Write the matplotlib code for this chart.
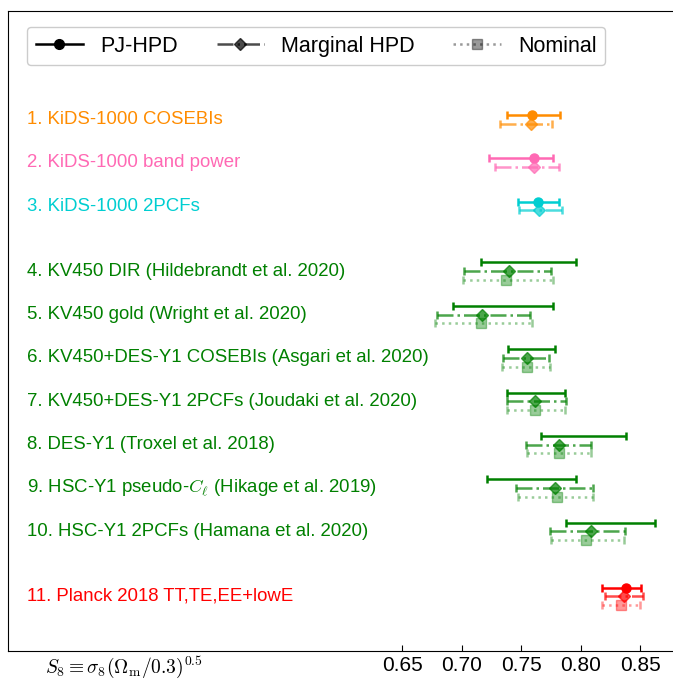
import matplotlib
matplotlib.use('Agg')
import matplotlib.pyplot as plt
from matplotlib.lines import Line2D

plt.rcParams['font.family'] = ['Liberation Sans', 'DejaVu Sans']
plt.rcParams['mathtext.fontset'] = 'cm'

# Datos: S8 para cada analisis (centro, limite inferior, limite superior)
labels = [
    '1. KiDS-1000 COSEBIs',
    '2. KiDS-1000 band power',
    '3. KiDS-1000 2PCFs',
    '4. KV450 DIR (Hildebrandt et al. 2020)',
    '5. KV450 gold (Wright et al. 2020)',
    '6. KV450+DES-Y1 COSEBIs (Asgari et al. 2020)',
    '7. KV450+DES-Y1 2PCFs (Joudaki et al. 2020)',
    '8. DES-Y1 (Troxel et al. 2018)',
    r'9. HSC-Y1 pseudo-$C_\ell$ (Hikage et al. 2019)',
    '10. HSC-Y1 2PCFs (Hamana et al. 2020)',
    '11. Planck 2018 TT,TE,EE+lowE',
]
colors = ['darkorange', 'hotpink', 'darkturquoise'] + ['green'] * 7 + ['red']

# PJ-HPD (None = sin punto central)
pj_mid = [0.759, 0.761, 0.764, None, None, None, None, None, None, None, 0.838]
pj_lo = [0.738, 0.723, 0.747, 0.716, 0.693, 0.739, 0.738, 0.767, 0.721, 0.788, 0.818]
pj_hi = [0.783, 0.777, 0.782, 0.796, 0.777, 0.778, 0.787, 0.838, 0.796, 0.862, 0.851]

# Marginal HPD
marg_mid = [0.758, 0.761, 0.765, 0.740, 0.717, 0.755, 0.762, 0.782, 0.778, 0.809, 0.836]
marg_lo = [0.732, 0.728, 0.748, 0.702, 0.679, 0.735, 0.738, 0.754, 0.746, 0.774, 0.820]
marg_hi = [0.776, 0.782, 0.784, 0.775, 0.757, 0.773, 0.788, 0.809, 0.810, 0.837, 0.852]

# Nominal (None = no disponible)
nom_mid = [None, None, None, 0.737, 0.716, 0.755, 0.762, 0.782, 0.780, 0.804, 0.834]
nom_lo = [None, None, None, 0.701, 0.678, 0.734, 0.738, 0.755, 0.747, 0.775, 0.818]
nom_hi = [None, None, None, 0.777, 0.759, 0.774, 0.787, 0.809, 0.810, 0.836, 0.850]

xticks = [0.65, 0.70, 0.75, 0.80, 0.85]


def barra(ax, mid, lo, hi, y, color, ls, marker, alpha, ms, lw):
    x = mid if mid is not None else (lo + hi) / 2
    eb = ax.errorbar([x], [y], xerr=[[x - lo], [hi - x]], fmt='none',
                     ecolor=color, elinewidth=lw, capsize=3, capthick=lw,
                     alpha=alpha)
    eb[2][0].set_linestyle(ls)
    if mid is not None:
        ax.plot([mid], [y], marker=marker, color=color, ms=ms, alpha=alpha,
                linestyle='none')


fig = plt.figure(figsize=(6.73, 6.82), dpi=100)
ax = fig.add_axes([8 / 673, 31 / 682, 668 / 673, 640 / 682])

# posiciones verticales de cada grupo
ypos = []
y = 0.0
for i in range(len(labels)):
    if i == 3:
        y += 0.4
    if i == 10:
        y += 0.5
    ypos.append(y)
    y += 1.0

off = 0.2
for i in range(len(labels)):
    y0 = ypos[i]
    c = colors[i]
    barra(ax, pj_mid[i], pj_lo[i], pj_hi[i], y0, c, '-', 'o', 1.0, 6.5, 1.8)
    barra(ax, marg_mid[i], marg_lo[i], marg_hi[i], y0 + off, c, '-.', 'D', 0.7, 6, 1.8)
    n = 2
    if nom_lo[i] is not None:
        barra(ax, nom_mid[i], nom_lo[i], nom_hi[i], y0 + 2 * off, c, ':', 's', 0.4, 6.5, 1.8)
        n = 3
    ylab = y0 + off * (n - 1) / 2
    ax.text(0.335, ylab, labels[i], color=c, fontsize=13.4, va='center', ha='left')

ax.set_xlim(0.319, 0.88)
ax.set_ylim(12.36, -2.4)
ax.set_xticks(xticks)
ax.set_xticklabels(['%.2f' % t for t in xticks], fontsize=15)
ax.tick_params(axis='x', direction='in', length=4, width=0.8, top=False)
ax.set_yticks([])
ax.spines['right'].set_visible(False)

ax.text(0.055, -0.026, r'$S_8 \equiv \sigma_8(\Omega_{\rm m}/0.3)^{0.5}$',
        transform=ax.transAxes, fontsize=14, ha='left', va='center')

handles = [
    Line2D([], [], color='black', ls='-', marker='o', lw=1.8, ms=7),
    Line2D([], [], color='black', ls='-.', marker='D', lw=1.8, ms=6, alpha=0.7),
    Line2D([], [], color='black', ls=':', marker='s', lw=1.8, ms=7, alpha=0.4),
]
leg = ax.legend(handles, ['PJ-HPD', 'Marginal HPD', 'Nominal'], loc='upper left',
                bbox_to_anchor=(0.0284, 0.975), borderaxespad=0, ncol=3,
                fontsize=15.5, handlelength=2.2, handletextpad=0.8,
                columnspacing=1.8, fancybox=True)
leg.get_frame().set_alpha(None)
leg.get_frame().set_facecolor('white')
leg.get_frame().set_edgecolor('#cccccc')
leg.get_frame().set_linewidth(1.0)

fig.savefig('out.png', dpi=100)
